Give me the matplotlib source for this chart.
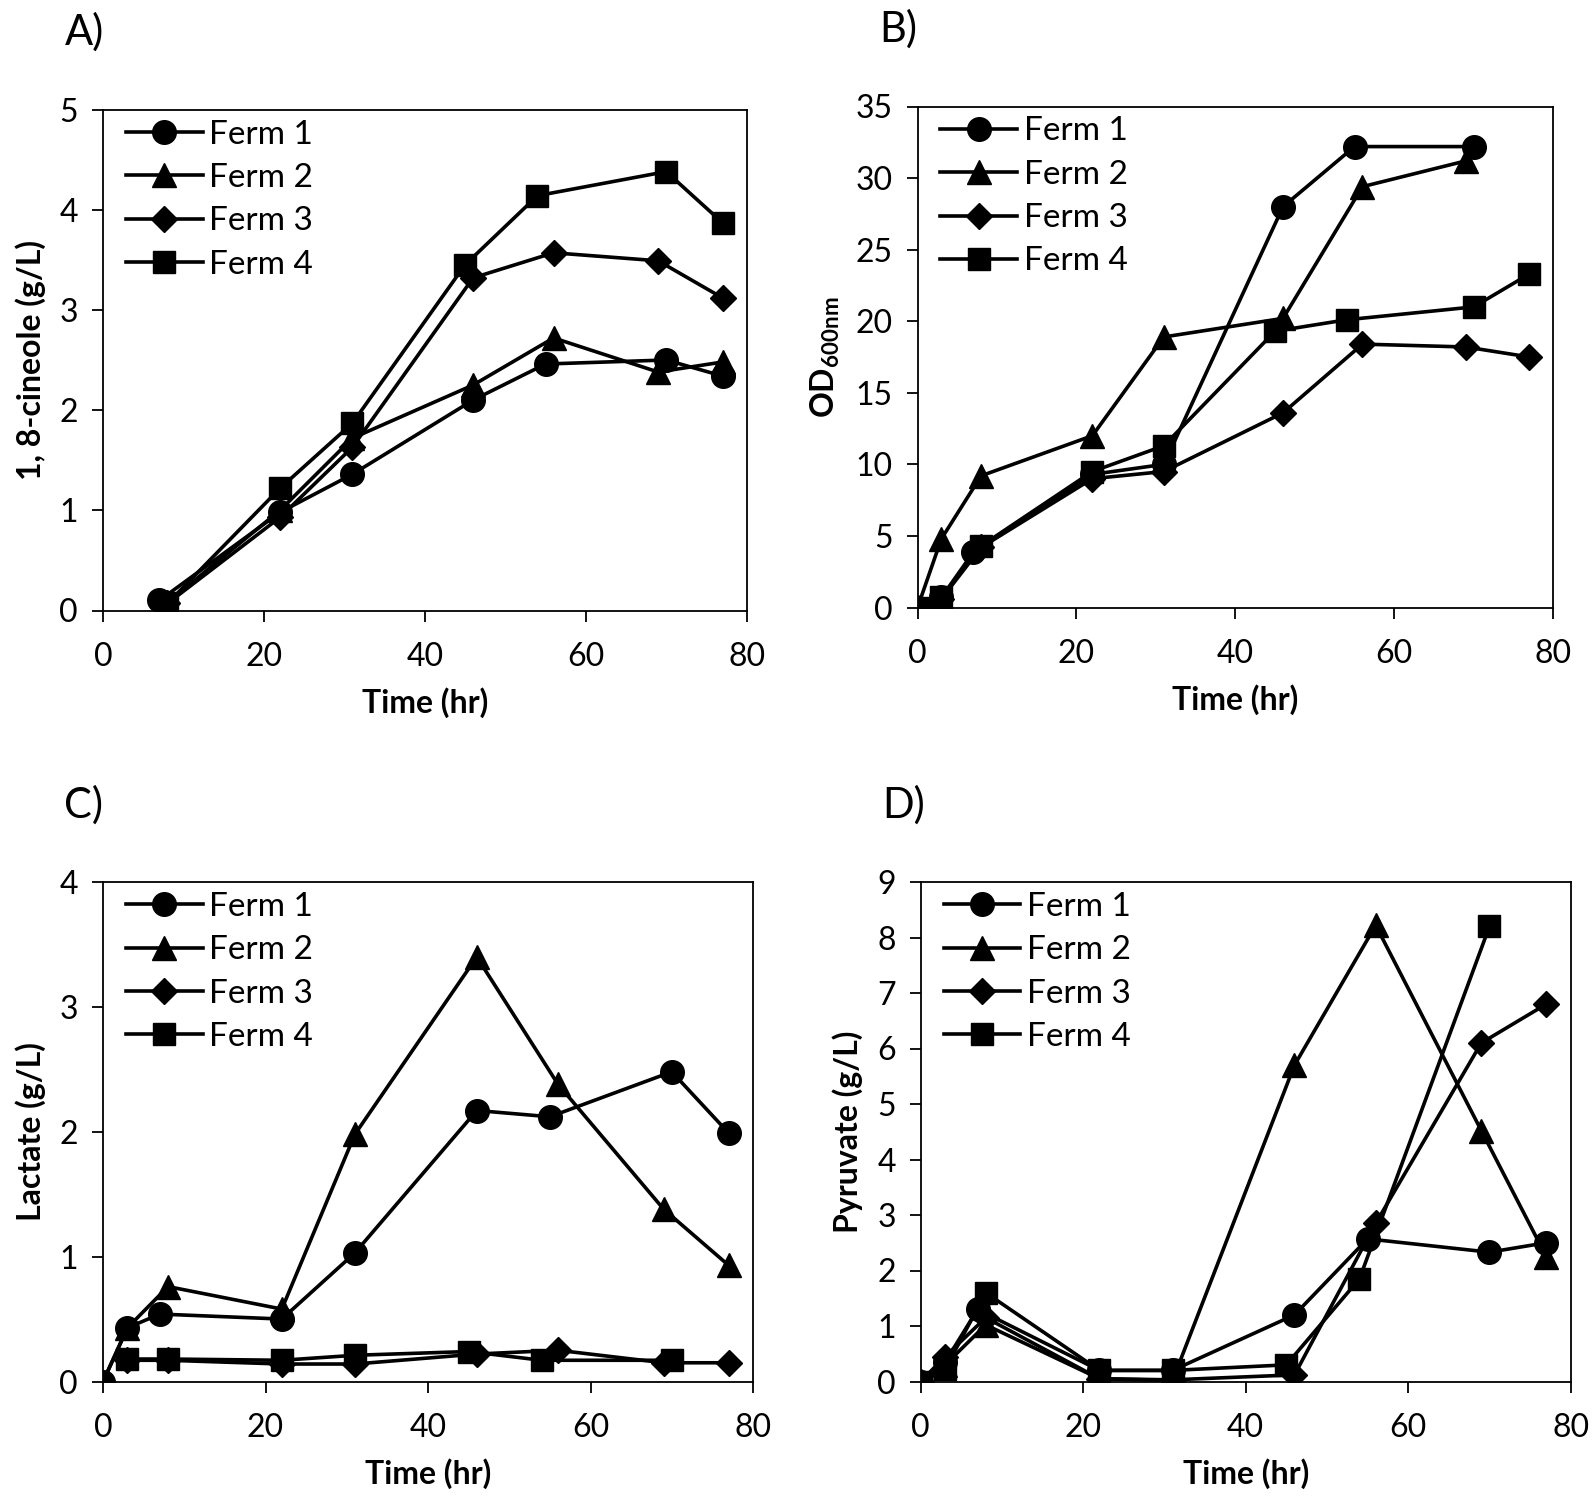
import matplotlib
matplotlib.use('Agg')
import matplotlib.pyplot as plt

plt.rcParams['font.family'] = ['Lato', 'DejaVu Sans']
plt.rcParams['mathtext.fontset'] = 'custom'
plt.rcParams['mathtext.rm'] = 'Lato'
plt.rcParams['mathtext.bf'] = 'Lato:bold'

labels = ['Ferm 1', 'Ferm 2', 'Ferm 3', 'Ferm 4']
markers = ['o', '^', 'D', 's']
msizes = [17, 17, 13, 16]

# A) 1,8-cineole (g/L)
a_t1 = [7, 22, 31, 46, 55, 70, 77]
a_y1 = [0.1, 0.98, 1.36, 2.1, 2.46, 2.5, 2.34]
a_t2 = [8, 22, 31, 46, 56, 69, 77]
a_y2 = [0.08, 1.0, 1.72, 2.25, 2.72, 2.38, 2.48]
a_t3 = [8, 22, 31, 46, 56, 69, 77]
a_y3 = [0.07, 0.93, 1.63, 3.32, 3.57, 3.49, 3.12]
a_t4 = [8, 22, 31, 45, 54, 70, 77]
a_y4 = [0.07, 1.22, 1.87, 3.45, 4.14, 4.38, 3.87]

# B) OD600
b_t1 = [0, 3, 7, 22, 31, 46, 55, 70]
b_y1 = [0, 0.7, 3.85, 9.3, 10.0, 28.0, 32.2, 32.2]
b_t2 = [0, 3, 8, 22, 31, 46, 56, 69]
b_y2 = [0, 4.8, 9.2, 12.0, 18.9, 20.2, 29.4, 31.2]
b_t3 = [0, 3, 8, 22, 31, 46, 56, 69, 77]
b_y3 = [0, 0.6, 4.2, 9.0, 9.5, 13.6, 18.4, 18.2, 17.5]
b_t4 = [0, 3, 8, 22, 31, 45, 54, 70, 77]
b_y4 = [0, 0.7, 4.3, 9.5, 11.3, 19.3, 20.1, 21.0, 23.3]

# C) Lactate (g/L)
c_t1 = [0, 3, 7, 22, 31, 46, 55, 70, 77]
c_y1 = [0, 0.43, 0.54, 0.5, 1.03, 2.17, 2.12, 2.48, 1.99]
c_t2 = [0, 3, 8, 22, 31, 46, 56, 69, 77]
c_y2 = [0, 0.43, 0.76, 0.58, 1.98, 3.4, 2.38, 1.38, 0.93]
c_t3 = [3, 8, 22, 31, 46, 56, 69, 77]
c_y3 = [0.17, 0.17, 0.14, 0.14, 0.22, 0.25, 0.15, 0.15]
c_t4 = [3, 8, 22, 31, 45, 54, 70]
c_y4 = [0.18, 0.18, 0.17, 0.21, 0.24, 0.17, 0.17]

# D) Pyruvate (g/L)
d_t1 = [0, 3, 7, 22, 31, 46, 55, 70, 77]
d_y1 = [0, 0.35, 1.3, 0.2, 0.2, 1.2, 2.57, 2.33, 2.5]
d_t2 = [0, 3, 8, 22, 31, 46, 56, 69, 77]
d_y2 = [0, 0.3, 1.02, 0.05, 0.02, 5.7, 8.22, 4.52, 2.25]
d_t3 = [0, 3, 8, 22, 31, 46, 56, 69, 77]
d_y3 = [0, 0.45, 1.15, 0.05, 0.03, 0.12, 2.85, 6.1, 6.8]
d_t4 = [0, 3, 8, 22, 31, 45, 54, 70]
d_y4 = [0, 0.22, 1.6, 0.2, 0.2, 0.3, 1.85, 8.2]


def panel(ax, series, ymax, ystep, ylabel, tag):
    for (t, y), m, ms, lab in zip(series, markers, msizes, labels):
        ax.plot(t, y, color='black', lw=2.6, marker=m, ms=ms, label=lab)
    ax.set_xlim(0, 80)
    ax.set_ylim(0, ymax)
    ax.set_xticks(range(0, 81, 20))
    ax.set_yticks(range(0, ymax + 1, ystep))
    ax.tick_params(direction='out', length=8, width=1.3, labelsize=23)
    ax.tick_params(axis='x', pad=15)
    ax.tick_params(axis='y', pad=10)
    for s in ax.spines.values():
        s.set_linewidth(1.3)
    ax.set_xlabel('Time (hr)', fontsize=23, fontweight='bold', labelpad=11)
    ax.set_ylabel(ylabel, fontsize=23, fontweight='bold', labelpad=10)
    ax.legend(loc='upper left', bbox_to_anchor=(0.02, 1.0), frameon=False,
              fontsize=24, handlelength=2.3, labelspacing=0.4,
              handletextpad=0.2, borderaxespad=0.0, borderpad=0.3)
    ax.text(-0.06, 1.155, tag, transform=ax.transAxes, fontsize=30, va='center')


fig = plt.figure(figsize=(15.93, 15.0), dpi=100)
axA = fig.add_axes([0.0647, 0.593, 0.404, 0.334])
axB = fig.add_axes([0.576, 0.595, 0.399, 0.334])
axC = fig.add_axes([0.0647, 0.079, 0.408, 0.333])
axD = fig.add_axes([0.578, 0.079, 0.408, 0.333])

panel(axA, [(a_t1, a_y1), (a_t2, a_y2), (a_t3, a_y3), (a_t4, a_y4)],
      5, 1, '1, 8-cineole (g/L)', 'A)')
panel(axB, [(b_t1, b_y1), (b_t2, b_y2), (b_t3, b_y3), (b_t4, b_y4)],
      35, 5, r'$\mathbf{OD_{600nm}}$', 'B)')
panel(axC, [(c_t1, c_y1), (c_t2, c_y2), (c_t3, c_y3), (c_t4, c_y4)],
      4, 1, 'Lactate (g/L)', 'C)')
panel(axD, [(d_t1, d_y1), (d_t2, d_y2), (d_t3, d_y3), (d_t4, d_y4)],
      9, 1, 'Pyruvate (g/L)', 'D)')

fig.savefig('out.png', dpi=100)
